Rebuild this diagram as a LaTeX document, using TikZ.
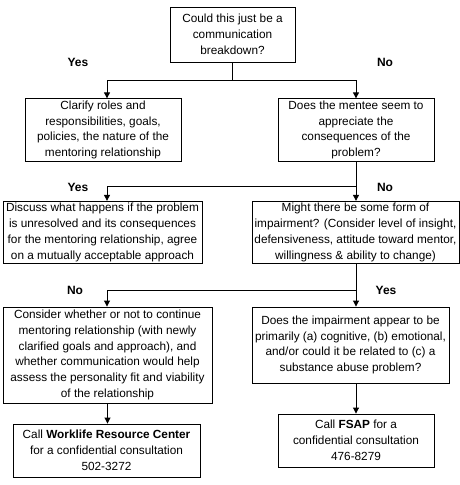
\documentclass[tikz,border=0pt]{standalone}
\usepackage{fontspec}
\setmainfont{Liberation Sans}
\usetikzlibrary{arrows.meta}

\tikzset{
  box/.style={draw, line width=0.9pt, align=center, inner sep=2pt,
    font=\fontsize{11.8}{15.8}\selectfont},
  answer/.style={font=\fontsize{12}{13}\selectfont\bfseries},
  arr/.style={line width=0.9pt, -{Triangle[length=6pt, width=6pt]}}
}

\begin{document}
\begin{tikzpicture}[x=1pt, y=-1pt]
      \useasboundingbox (0,0) rectangle (460,485);

      \node[box, minimum width=125pt, minimum height=55pt] (start) at (232.5,34.5)
        {Could this just be a\\communication\\breakdown?};

      \node[box, minimum width=156pt, minimum height=60pt] (clarify) at (103,130)
        {Clarify roles and\\responsibilities, goals,\\policies, the nature of the\\mentoring relationship};
      \node[box, minimum width=156pt, minimum height=60pt] (mentee) at (356,130)
        {Does the mentee seem to\\appreciate the\\consequences of the\\problem?};

      \node[box, minimum width=199pt, minimum height=55pt] (discuss) at (102.5,232.5)
        {Discuss what happens if the problem\\is unresolved and its consequences\\for the mentoring relationship, agree\\on a mutually acceptable approach};
      \node[box, minimum width=207pt, minimum height=55pt] (might) at (355.5,232.5)
        {Might there be some form of\\impairment? (Consider level of insight,\\defensiveness, attitude toward mentor,\\willingness \& ability to change)};

      \node[box, minimum width=209pt, minimum height=96pt] (consider) at (107.5,355)
        {Consider whether or not to continue\\mentoring relationship (with newly\\clarified goals and approach), and\\whether communication would help\\assess the personality fit and viability\\of the relationship};
      \node[box, minimum width=197pt, minimum height=76pt] (impair) at (350.5,345)
        {Does the impairment appear to be\\primarily (a) cognitive, (b) emotional,\\and/or could it be related to (c) a\\substance abuse problem?};

      \node[box, minimum width=187pt, minimum height=53pt] (worklife) at (106.5,450.5)
        {Call \textbf{Worklife Resource Center}\\for a confidential consultation\\502-3272};
      \node[box, minimum width=156pt, minimum height=53pt] (fsap) at (356,440.5)
        {Call \textbf{FSAP} for a\\confidential consultation\\476-8279};

      % branch points
      \coordinate (yes1) at (107,80);
      \coordinate (yes2) at (107,186);
      \coordinate (no3) at (107,290);

      \draw[arr] (start.south) |- (yes1) -- (yes1 |- clarify.north);
      \draw[arr] (start.south |- yes1) -| (mentee.north);

      \draw[arr] (mentee.south) -- (might.north -| mentee.south);
      \draw[arr] (mentee.south |- yes2) -- (yes2) -- (yes2 |- discuss.north);

      \draw[arr] (mentee.south |- might.south) -- (mentee.south |- impair.north);
      \draw[arr] (mentee.south |- no3) -- (no3) -- (no3 |- consider.north);

      \draw[arr] (consider.south) -- (worklife.north -| consider.south);
      \draw[arr] (impair.south -| fsap.north) -- (fsap.north);

      \node[answer] (yesA) at (78,62) {Yes};
      \node[answer] (noA) at (385,62) {No};
      \node[answer] (yesB) at (78,187) {Yes};
      \node[answer] (noB) at (385,187) {No};
      \node[answer] (noC) at (75,290) {No};
      \node[answer] (yesC) at (386,290) {Yes};
    \end{tikzpicture}
\end{document}
